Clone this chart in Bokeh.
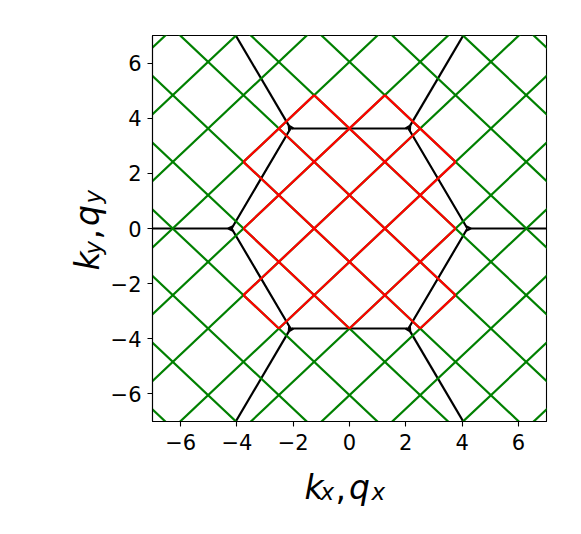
import numpy as np
from bokeh.plotting import figure
from bokeh.models import Range1d, FixedTicker, Label, CustomJSTickFormatter
from bokeh.embed import file_html
from bokeh.resources import INLINE

# ---- data -------------------------------------------------------------
# spacing of the rotated square grid (lines u+v = c, u-v = c, u=x/DX, v=y/DY)
DX = 1.256
DY = 1.209
GREEN_C = [-11, -9, -7, -5, -3, -1, 1, 3, 5, 7, 9, 11]
# red segments: (c, u_start, u_end) for the families u+v=c and u-v=c
RED_PLUS = [(5, 1, 3), (3, -1, 3), (1, -2, 3), (-1, -3, 2), (-3, -3, 0), (-5, -3, -2)]
RED_MINUS = [(-5, -3, -1), (-3, -3, 1), (-1, -3, 2), (1, -2, 3), (3, 0, 3), (5, 2, 3)]
# hexagonal Brillouin zone: vertex radius and vertex angles
BZ_R = 4 * np.pi / 3
BZ_ANGLES_DEG = [0, 60, 120, 180, 240, 300]
TICKS = [-6, -4, -2, 0, 2, 4, 6]
LIM = (-7, 7)

# ---- figure -----------------------------------------------------------
FW, FH = 394, 386
L, T, R, B = 152, 35, 19, 97
p = figure(frame_width=FW, frame_height=FH, min_border_left=L, min_border_top=T,
           min_border_right=R, min_border_bottom=B, output_backend="svg",
           toolbar_location=None, x_range=Range1d(*LIM), y_range=Range1d(*LIM))
p.grid.visible = False
p.outline_line_color = "black"
p.outline_line_width = 1.1
p.background_fill_color = "white"
p.border_fill_color = "white"

fmt = CustomJSTickFormatter(code="return (tick < 0 ? '\\u2212' : '') + Math.abs(tick).toFixed(0);")
for ax in (p.xaxis[0], p.yaxis[0]):
    ax.ticker = FixedTicker(ticks=TICKS)
    ax.formatter = fmt
    ax.minor_tick_line_color = None
    ax.major_tick_in = 0
    ax.major_tick_out = 5
    ax.major_tick_line_width = 1.1
    ax.axis_line_width = 1.1
    ax.axis_line_color = "black"
    ax.major_tick_line_color = "black"
    ax.major_label_text_font = "DejaVu Sans"
    ax.major_label_text_font_size = "21px"
    ax.major_label_text_color = "black"
p.xaxis.major_label_standoff = 7
p.yaxis.major_label_standoff = 6

LW = 2.2

# ---- black BZ lines (drawn first) --------------------------------------
ang = np.deg2rad(BZ_ANGLES_DEG)
vx = BZ_R * np.cos(ang)
vy = BZ_R * np.sin(ang)
hx = list(vx) + [vx[0]]
hy = list(vy) + [vy[0]]
p.line(hx, hy, line_color="black", line_width=LW)
eps = 0.1
sxs, sys_ = [], []
for i in range(6):
    V = np.array([vx[i], vy[i]])
    uo = V / np.linalg.norm(V)
    Vn = np.array([vx[(i + 1) % 6], vy[(i + 1) % 6]])
    Vp = np.array([vx[(i - 1) % 6], vy[(i - 1) % 6]])
    e1 = (Vn - V) / np.linalg.norm(Vn - V)
    e2 = (Vp - V) / np.linalg.norm(Vp - V)
    S = V + 1.2 * eps * uo
    A = V + eps * e1
    Bp = V + eps * e2
    far = V + 3 * BZ_R * uo
    sxs.append([A[0], S[0], Bp[0]]); sys_.append([A[1], S[1], Bp[1]])
    sxs.append([S[0], far[0]]); sys_.append([S[1], far[1]])
p.multi_line(sxs, sys_, line_color="black", line_width=LW)

# ---- green grid ---------------------------------------------------------
U0, U1 = -9.0, 9.0
gx0, gy0, gx1, gy1 = [], [], [], []
for c in GREEN_C:
    gx0.append(U0 * DX); gy0.append((c - U0) * DY); gx1.append(U1 * DX); gy1.append((c - U1) * DY)
    gx0.append(U0 * DX); gy0.append((U0 - c) * DY); gx1.append(U1 * DX); gy1.append((U1 - c) * DY)
p.segment(gx0, gy0, gx1, gy1, line_color="green", line_width=LW)

# ---- red grid -----------------------------------------------------------
rx0, ry0, rx1, ry1 = [], [], [], []
for c, a, b in RED_PLUS:
    rx0.append(a * DX); ry0.append((c - a) * DY); rx1.append(b * DX); ry1.append((c - b) * DY)
for c, a, b in RED_MINUS:
    rx0.append(a * DX); ry0.append((a - c) * DY); rx1.append(b * DX); ry1.append((b - c) * DY)
p.segment(rx0, ry0, rx1, ry1, line_color="red", line_width=LW)

# ---- math-like axis labels (side panel, data-space anchors) ------------
sx = FW / (LIM[1] - LIM[0])
sy = FH / (LIM[1] - LIM[0])


def X(px):
    return LIM[0] + (px - L) / sx


def Y(py):
    return LIM[1] - (py - T) / sy


BIG, SUB = 33, 23
# (text, size, italic, offset along baseline, extra drop for subscript)
def pieces(sub):
    return [("k", BIG, True, 0, 0), (sub, SUB, True, 16, 5), (",", BIG, False, 31, 0),
            ("q", BIG, True, 44.5, 0), (sub, SUB, True, 67, 5)]


x0_px, base_px = 304, 486.7
for txt, size, it, off, drop in pieces("x"):
    p.add_layout(Label(x=X(x0_px + off), y=Y(base_px + drop), text=txt,
                       text_font="DejaVu Sans", text_font_size=f"{size}px",
                       text_font_style="italic" if it else "normal",
                       text_align="left", text_baseline="alphabetic", text_color="black"), "below")

y0_px, basex_px = 270, 87
for txt, size, it, off, drop in pieces("y"):
    p.add_layout(Label(x=X(basex_px + drop), y=Y(y0_px - off), angle=np.pi / 2, text=txt,
                       text_font="DejaVu Sans", text_font_size=f"{size}px",
                       text_font_style="italic" if it else "normal",
                       text_align="left", text_baseline="alphabetic", text_color="black"), "below")

open("out.html", "w").write(file_html(p, INLINE))
